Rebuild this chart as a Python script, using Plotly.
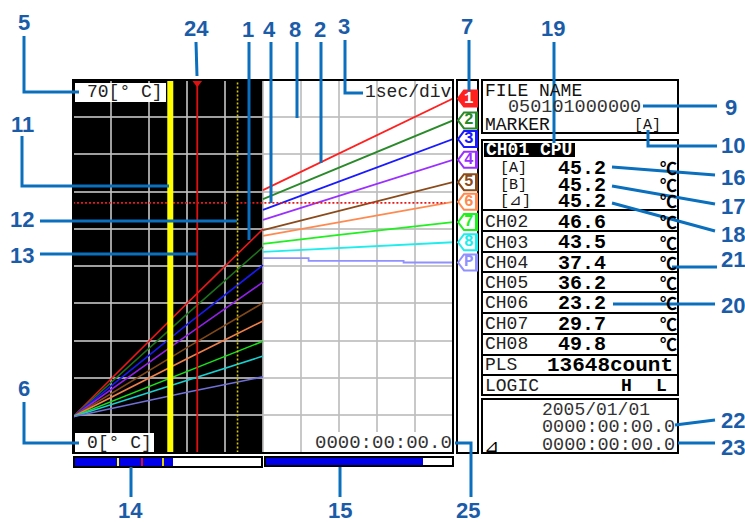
import plotly.graph_objects as go

W, H = 745, 522
# ---- data (seconds, deg C) ----
left_t = [0, 3, 5]
right_t = [5, 7, 10]
left_ch1 = [6.7, 28.0, 42.0]
left_ch2 = [6.7, 26.0, 38.6]
left_ch3 = [6.7, 24.0, 35.2]
left_ch4 = [6.7, 22.0, 32.0]
left_ch5 = [6.7, 19.7, 28.1]
left_ch6 = [6.7, 17.6, 24.7]
left_ch7 = [6.7, 15.2, 20.9]
left_ch8 = [6.7, 13.6, 18.1]
left_pls = [6.7, 11.3, 14.2]
right_ch1 = [49.3, 56.2, 66.5]
right_ch2 = [47.6, 53.5, 62.4]
right_ch3 = [45.6, 50.9, 58.9]
right_ch4 = [43.7, 48.2, 55.0]
right_ch5 = [41.8, 45.4, 50.8]
right_ch6 = [40.7, 43.3, 47.1]
right_ch7 = [39.2, 40.9, 43.3]
right_ch8 = [37.7, 38.4, 39.5]
right_pls_t = [5, 6.2, 8.7, 10]
right_pls = [36.5, 36.0, 35.7, 35.7]
cursor_level = 46.9
cursor_level_t = [0, 4.1, None, 4.3, 9.8]
marker_a_t = 2.56
marker_red_t = 3.27
marker_b_t = 4.33
y_min, y_max = 0, 70
x_min, x_max = 0, 10

left_vals = [left_ch1, left_ch2, left_ch3, left_ch4, left_ch5, left_ch6, left_ch7, left_ch8, left_pls]
right_vals = [right_ch1, right_ch2, right_ch3, right_ch4, right_ch5, right_ch6, right_ch7, right_ch8]
left_colors = ["#e81818", "#1c701c", "#1818f0", "#9020e8", "#804818", "#f08048", "#18e018", "#18d0d0", "#7070d8"]
right_colors = ["#ff2020", "#2a8a2a", "#1a1aff", "#9a30ff", "#8b4a1a", "#ff8a50", "#20f020", "#20ecec", "#9090ff"]
tag_labels = ["1", "2", "3", "4", "5", "6", "7", "8", "P"]

channel_rows = [("CH02", "46.6", 222), ("CH03", "43.5", 243), ("CH04", "37.4", 263),
                ("CH05", "36.2", 283), ("CH06", "23.2", 303), ("CH07", "29.7", 324), ("CH08", "49.8", 344)]
cursor_rows = [("[A]", "45.2", 168), ("[B]", "45.2", 185), ("[⊿]", "45.2", 202)]

BLUE_L, BLUE_T = "#0a6fbd", "#1b5ca8"
MONO = "Liberation Mono"

def px(x): return x / W
def py(y): return 1 - y / H
# value -> page pixel, used to hang channel tags at their trace ends
PLOT_T, PLOT_B = 80, 452.4
def val_y(v): return PLOT_B - (v - y_min) / (y_max - y_min) * (PLOT_B - PLOT_T)

fig = go.Figure()
shapes, notes = [], []

def rect(x0, y0, x1, y1, fill="rgba(0,0,0,0)", line="black", lw=2):
    shapes.append(dict(type="rect", xref="paper", yref="paper", x0=px(x0), x1=px(x1), y0=py(y0), y1=py(y1),
                       fillcolor=fill, line=dict(color=line, width=lw), layer="above"))

def seg(pts, color=BLUE_L, lw=3):
    p = "M" + " L".join(f"{px(a):.5f},{py(b):.5f}" for a, b in pts)
    shapes.append(dict(type="path", xref="paper", yref="paper", path=p, line=dict(color=color, width=lw), layer="above"))

def txt(x, y, s, size=18, bold=False, anchor="left", color="#111", family=MONO):
    if bold:
        s = f"<b>{s}</b>"
    notes.append(dict(xref="paper", yref="paper", x=px(x), y=py(y), text=s, showarrow=False, xanchor=anchor,
                      yanchor="middle", align=anchor, font=dict(family=family, size=size, color=color),
                      borderpad=0, borderwidth=0))

# traces
for v, c in zip(left_vals, left_colors):
    fig.add_trace(go.Scatter(x=left_t, y=v, mode="lines", line=dict(color=c, width=1.6), hoverinfo="skip"))
for v, c in zip(right_vals, right_colors):
    fig.add_trace(go.Scatter(x=right_t, y=v, mode="lines", line=dict(color=c, width=1.8), hoverinfo="skip"))
fig.add_trace(go.Scatter(x=right_pls_t, y=right_pls, mode="lines", line=dict(color=right_colors[8], width=1.8, shape="hv"), hoverinfo="skip"))
fig.add_trace(go.Scatter(x=cursor_level_t, y=[cursor_level] * 5, mode="lines", line=dict(color="#e81818", width=1.8, dash="2px 2px"), hoverinfo="skip"))
fig.add_trace(go.Scatter(x=[marker_a_t] * 2, y=[y_min, y_max], mode="lines", line=dict(color="#ffff00", width=6), hoverinfo="skip"))
fig.add_trace(go.Scatter(x=[marker_red_t] * 2, y=[y_min, y_max], mode="lines", line=dict(color="#e01010", width=1.8), hoverinfo="skip"))
fig.add_trace(go.Scatter(x=[marker_b_t] * 2, y=[y_min, y_max], mode="lines", line=dict(color="#d8c800", width=1.6, dash="2px 2px"), hoverinfo="skip"))
fig.add_trace(go.Scatter(x=[marker_red_t], y=[y_max - 0.5], mode="markers", marker=dict(symbol="triangle-down", size=9, color="#e01010"), hoverinfo="skip"))

# black half of the plot
shapes.append(dict(type="rect", xref="x", yref="y", x0=0, x1=5, y0=y_min, y1=y_max, fillcolor="black", line_width=0, layer="below"))

# plot frame + strip
rect(73, 80, 453, 453)
rect(457, 80, 478, 453)

# scale / time boxes
rect(75, 83, 166, 102, fill="white", line="white", lw=0)
rect(75, 433, 154, 452, fill="white", line="white", lw=0)
rect(315, 432, 452, 452, fill="white", line="white", lw=0)
txt(87, 92, "70[° C]", size=18, color="#222")
txt(87, 443, "0[° C]", size=18, color="#222")
txt(452, 443, "0000:00:00.0", size=19, anchor="right", color="#333")
txt(452, 92, "1sec/div", size=18, anchor="right", color="#222")

# channel tags placed from trace-end values
ends = [r[-1] for r in right_vals] + [right_pls[-1]]
for i, (e, c, lab) in enumerate(zip(ends, right_colors, tag_labels)):
    yc = val_y(e)
    pts = [(458, yc), (464, yc - 8), (477, yc - 8), (477, yc + 8), (464, yc + 8)]
    p = "M" + " L".join(f"{px(a):.5f},{py(b):.5f}" for a, b in pts) + " Z"
    shapes.append(dict(type="path", xref="paper", yref="paper", path=p, layer="above",
                       fillcolor=c if i == 0 else "white", line=dict(color=c, width=2)))
    rect(475, yc - 8, 478, yc + 8, fill=c, line=c, lw=0)
    txt(469, yc, lab, size=16, bold=True, anchor="center", color="white" if i == 0 else c)

# sliders
rect(74, 457, 262, 467, fill="white")
rect(75, 458, 173, 466, fill="#0000e8", line="#0000e8", lw=0)
rect(117, 458, 119, 466, fill="#ffff00", line="#ffff00", lw=0)
rect(141, 458, 143, 466, fill="#e01010", line="#e01010", lw=0)
rect(162, 458, 164, 466, fill="#e0d000", line="#e0d000", lw=0)
rect(265, 457, 453, 466, fill="white")
rect(266, 458, 423, 465, fill="#0000e8", line="#0000e8", lw=0)

# right panels
rect(482, 80, 678, 133)
rect(482, 140, 678, 395)
rect(482, 399, 678, 453)
for yy in [210, 231, 252, 272, 292, 313, 334, 355, 375]:
    seg([(482, yy), (678, yy)], color="black", lw=2)
txt(485, 91, "FILE NAME", size=18)
txt(508, 108, "050101000000", size=18.5, color="#333")
txt(485, 125, "MARKER", size=18)
txt(661, 125, "[A]", size=15, anchor="right")
rect(484, 143, 575, 157, fill="black", lw=0)
txt(486, 150, "CH01 CPU", size=18, bold=True, color="white")
for name, val, yy in cursor_rows:
    txt(500, yy, name, size=15)
    txt(558, yy, val, size=20, bold=True, color="black")
    txt(677, yy - 1, "℃", size=17, bold=True, anchor="right", color="black", family="Noto Sans CJK JP")
for name, val, yy in channel_rows:
    txt(485, yy, name, size=18, color="#222")
    txt(558, yy, val, size=20, bold=True, color="black")
    txt(677, yy - 1, "℃", size=17, bold=True, anchor="right", color="black", family="Noto Sans CJK JP")
txt(485, 365, "PLS", size=18, color="#222")
txt(547, 365, "13648count", size=21, bold=True, color="black")
txt(485, 386, "LOGIC", size=18, color="#222")
txt(626, 386, "H", size=18, bold=True, anchor="center", color="black")
txt(661, 386, "L", size=18, bold=True, anchor="center", color="black")
txt(542, 410, "2005/01/01", size=18, color="#333")
txt(542, 427, "0000:00:00.0", size=18.5, color="#333")
txt(542, 445, "0000:00:00.0", size=18.5, color="#333")
txt(484, 445, "⊿", size=18, family="DejaVu Sans", color="black")

# callouts
seg([(24, 36), (24, 92), (79, 92)])
seg([(196, 42), (197, 76)])
seg([(249, 42), (249, 240)])
seg([(271, 42), (271, 203)])
seg([(297, 42), (297, 118)])
seg([(321, 42), (321, 163)])
seg([(345, 40), (345, 93), (363, 93)])
seg([(469, 40), (469, 91)])
seg([(554, 42), (554, 143)])
seg([(643, 106), (717, 106)])
seg([(648, 130), (648, 146), (717, 146)])
seg([(612, 167), (715, 175)])
seg([(612, 186), (715, 204)])
seg([(612, 203), (715, 231)])
seg([(672, 267), (717, 267)])
seg([(613, 304), (715, 304)])
seg([(675, 425), (715, 420)])
seg([(678, 443), (715, 443)])
seg([(22, 136), (22, 186), (169, 186)])
seg([(40, 221), (237, 221)])
seg([(40, 254), (197, 254)])
seg([(24, 402), (24, 443), (79, 443)])
seg([(131, 467), (131, 497)])
seg([(340, 467), (340, 497)])
seg([(455, 443), (471, 443), (471, 497)])

labels = [("5", 24, 22), ("24", 196, 28), ("1", 248, 29), ("4", 269, 29), ("8", 295, 29), ("2", 320, 29),
          ("3", 344, 27), ("7", 467, 27), ("19", 553, 28), ("9", 731, 108), ("10", 733, 145), ("16", 733, 177),
          ("17", 733, 206), ("18", 733, 234), ("21", 733, 259), ("20", 733, 305), ("22", 733, 420), ("23", 733, 447),
          ("11", 22, 124), ("12", 22, 219), ("13", 22, 255), ("6", 24, 388), ("14", 130, 510), ("15", 340, 510), ("25", 468, 510)]
for s, x, y in labels:
    txt(x, y, s, size=22, bold=True, anchor="center", color=BLUE_T, family="Liberation Sans")

axis = dict(showticklabels=False, ticks="", zeroline=False, showline=False, showgrid=True,
            gridcolor="rgba(190,190,190,0.84)", gridwidth=2, fixedrange=True)
fig.update_layout(
    width=W, height=H, autosize=False, showlegend=False,
    margin=dict(l=0, r=0, t=0, b=0), paper_bgcolor="white", plot_bgcolor="white",
    xaxis=dict(axis, domain=[px(73), px(453)], range=[x_min, x_max], dtick=1),
    yaxis=dict(axis, domain=[py(PLOT_B), py(PLOT_T)], range=[y_min, y_max], dtick=7),
    shapes=shapes, annotations=notes,
)
fig.write_html("out.html", config={"displayModeBar": False},
               post_script="document.body.style.margin='0';document.documentElement.style.overflow='hidden';")
